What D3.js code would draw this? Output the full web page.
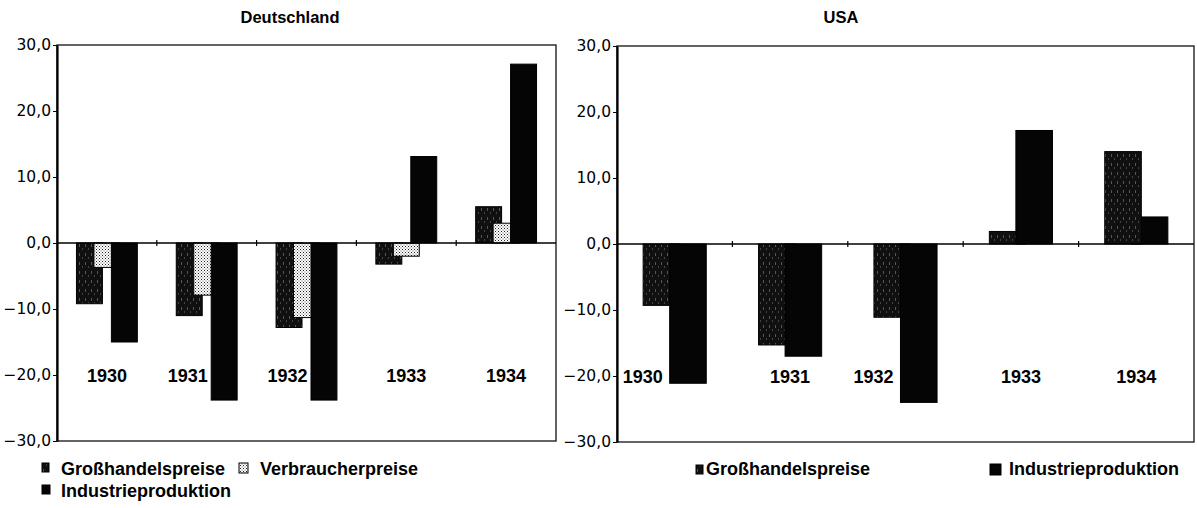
<!DOCTYPE html>
<html><head><meta charset="utf-8">
<script src="https://cdn.jsdelivr.net/npm/d3@7"></script>
<style>body{margin:0;background:#fff}</style>
</head><body><svg id="c" width="1197" height="508"></svg>
<script>
// ---- data ----
const years = ["1930", "1931", "1932", "1933", "1934"];
const deGross = [-9.2, -11.0, -12.8, -3.2, 5.5];
const deVerb  = [-3.7, -7.9, -11.3, -2.0, 3.0];
const deInd   = [-15.0, -23.8, -23.8, 13.1, 27.1];
const usGross = [-9.3, -15.3, -11.1, 1.9, 14.0];
const usInd   = [-21.1, -17.0, -24.0, 17.2, 4.1];
const yTicks  = [-30, -20, -10, 0, 10, 20, 30];
const yDomain = [-30, 30];
const titles  = ["Deutschland", "USA"];
const seriesNames = ["Großhandelspreise", "Verbraucherpreise", "Industrieproduktion"];

const svg = d3.select("#c");
const defs = svg.append("defs");
// Großhandelspreise: dark speckled
const pg = defs.append("pattern").attr("id", "pGross").attr("patternUnits", "userSpaceOnUse").attr("width", 6).attr("height", 9);
pg.append("rect").attr("width", 6).attr("height", 9).attr("fill", "#101010");
pg.append("rect").attr("x", 1).attr("y", 1).attr("width", 1).attr("height", 3).attr("fill", "#555");
pg.append("rect").attr("x", 4).attr("y", 5).attr("width", 1).attr("height", 2).attr("fill", "#444");
// Verbraucherpreise: light stipple
const pv = defs.append("pattern").attr("id", "pVerb").attr("patternUnits", "userSpaceOnUse").attr("width", 3).attr("height", 3);
pv.append("rect").attr("width", 3).attr("height", 3).attr("fill", "#fff");
pv.append("rect").attr("x", 0).attr("y", 0).attr("width", 1).attr("height", 1).attr("fill", "#222");
pv.append("rect").attr("x", 1.5).attr("y", 1.5).attr("width", 1).attr("height", 1).attr("fill", "#555");

const fills = {"Großhandelspreise": "url(#pGross)", "Verbraucherpreise": "url(#pVerb)", "Industrieproduktion": "#050505"};

const locale = d3.formatLocale({decimal: ",", thousands: ".", grouping: [3], currency: ["", " €"], minus: "\u2212"});
const fmt = locale.format(".1f");

const panels = [
  {title: titles[0], titleX: 290, left: 57, right: 556, top: 45, bottom: 441,
   series: [[seriesNames[0], deGross], [seriesNames[1], deVerb], [seriesNames[2], deInd]],
   barW: 0.26, step: 0.175, order: "series", labelGap: 3.5},
  {title: titles[1], titleX: 841, left: 617, right: 1194, top: 46, bottom: 442,
   series: [[seriesNames[0], usGross], [seriesNames[2], usInd]],
   barW: 0.317, step: 0.23, order: "magnitude", labelGap: 7}
];

panels.forEach(p => {
  const g = svg.append("g");
  const x = d3.scaleBand().domain(years).range([p.left, p.right]).padding(0);
  const y = d3.scaleLinear().domain(yDomain).range([p.bottom, p.top]);
  const bw = x.bandwidth();
  const w = p.barW * bw, st = p.step * bw;
  const n = p.series.length;
  const groupW = st * (n - 1) + w;

  // title
  g.append("text").attr("x", p.titleX).attr("y", 23).attr("text-anchor", "middle")
    .attr("font-family", "Liberation Sans, Arial, sans-serif").attr("font-weight", "bold")
    .attr("font-size", 16.5).text(p.title);

  // frame
  g.append("rect").attr("x", p.left).attr("y", p.top).attr("width", p.right - p.left).attr("height", p.bottom - p.top)
    .attr("fill", "none").attr("stroke", "#111").attr("stroke-width", 1.3);

  // bars
  const rects = [];
  years.forEach((yr, ci) => {
    const x0 = x(yr) + bw / 2 - groupW / 2;
    const list = p.series.map(([name, vals], si) => ({yr, name, v: vals[ci], si, x: x0 + si * st}));
    if (p.order === "magnitude") list.sort((a, b) => Math.abs(a.v) - Math.abs(b.v));
    rects.push(...list);
  });
  g.selectAll("rect.bar").data(rects).enter().append("rect").attr("class", "bar")
    .attr("x", d => d.x).attr("width", w)
    .attr("y", d => Math.min(y(0), y(d.v))).attr("height", d => Math.abs(y(d.v) - y(0)))
    .attr("fill", d => fills[d.name]).attr("stroke", "#000").attr("stroke-width", 1);

  // zero line
  g.append("line").attr("x1", p.left).attr("x2", p.right).attr("y1", y(0)).attr("y2", y(0))
    .attr("stroke", "#000").attr("stroke-width", 1.5);
  // category boundary ticks on the zero line
  g.selectAll("line.ct").data(years.slice(1)).enter().append("line").attr("class", "ct")
    .attr("x1", d => x(d)).attr("x2", d => x(d)).attr("y1", y(0) - 3).attr("y2", y(0) + 3)
    .attr("stroke", "#000").attr("stroke-width", 1.2);

  // y axis
  const ax = g.append("g").attr("transform", `translate(${p.left},0)`)
    .call(d3.axisLeft(y).tickValues(yTicks).tickSize(4).tickSizeOuter(0).tickPadding(2).tickFormat(fmt));
  ax.select(".domain").attr("stroke-width", 2.2).attr("stroke", "#000");
  ax.selectAll(".tick line").attr("stroke", "#000").attr("stroke-width", 1);
  ax.selectAll("text").attr("font-family", "DejaVu Sans, sans-serif").attr("font-size", 15.5).attr("fill", "#000");

  // year labels
  const labelY = y(-20);
  const labelTopV = y.invert(labelY - 8);
  years.forEach((yr, ci) => {
    const cx = x(yr) + bw / 2;
    const t = g.append("text").attr("y", labelY + 6.5)
      .attr("font-family", "Liberation Sans, Arial, sans-serif").attr("font-weight", "bold")
      .attr("font-size", 18).text(yr);
    const tw = t.node().getComputedTextLength();
    const conflicts = rects.filter(r => r.yr === yr && r.v < labelTopV && r.x < cx + tw / 2 && r.x + w > cx - tw / 2);
    if (conflicts.length) {
      const edge = d3.min(conflicts, r => r.x) - p.labelGap;
      t.attr("x", edge).attr("text-anchor", "end");
    } else {
      t.attr("x", cx).attr("text-anchor", "middle");
    }
  });
});

// legends
const legendItems = [
  {name: seriesNames[0], sx: 42, sy: 463, sw: 7, sh: 9, tx: 61, ty: 475},
  {name: seriesNames[1], sx: 239, sy: 463, sw: 9, sh: 10, tx: 260, ty: 475},
  {name: seriesNames[2], sx: 42, sy: 485, sw: 8, sh: 9, tx: 61, ty: 497},
  {name: seriesNames[0], sx: 696, sy: 465, sw: 7, sh: 9, tx: 706, ty: 475},
  {name: seriesNames[2], sx: 990, sy: 464, sw: 11, sh: 11, tx: 1009, ty: 475}
];
const lg = svg.append("g");
legendItems.forEach(it => {
  lg.append("rect").attr("x", it.sx).attr("y", it.sy).attr("width", it.sw).attr("height", it.sh)
    .attr("fill", fills[it.name]).attr("stroke", "#000").attr("stroke-width", 1);
  lg.append("text").attr("x", it.tx).attr("y", it.ty)
    .attr("font-family", "Liberation Sans, Arial, sans-serif").attr("font-weight", "bold")
    .attr("font-size", 18).text(it.name);
});
</script>
</body></html>
